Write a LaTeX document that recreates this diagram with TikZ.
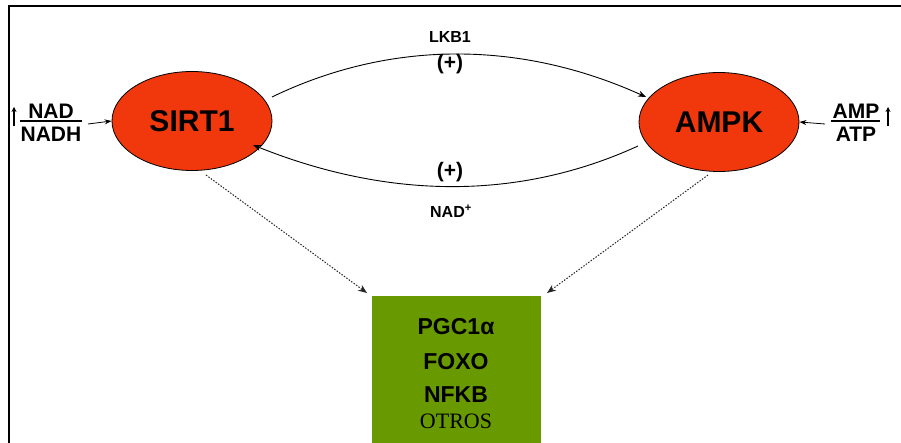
\documentclass[tikz,border=0pt]{standalone}
\usepackage{fontspec}
\setmainfont{Liberation Sans}
\newfontfamily\timesfont{Liberation Serif}
\usetikzlibrary{arrows.meta,shapes.geometric}
\definecolor{enzred}{RGB}{240,56,12}
\definecolor{targetgreen}{RGB}{104,154,0}
\begin{document}
\begin{tikzpicture}[x=1pt,y=-1pt,
  enzyme/.style={ellipse, draw=black, line width=0.8pt, fill=enzred,
    minimum width=160pt, minimum height=99pt, inner sep=0pt,
    font=\fontsize{30}{30}\selectfont\bfseries},
  loop/.style={line width=0.9pt, -{Stealth[length=8pt,width=6pt]}},
  feed/.style={line width=0.8pt, -{Stealth[length=7pt,width=5pt]}},
  dots/.style={line width=1pt, dash pattern=on 1.5pt off 1.5pt, draw=black!85,
    -{Stealth[length=9pt,width=7pt]}},
  lab/.style={font=\fontsize{16}{16}\selectfont\bfseries, inner sep=1pt},
  sign/.style={font=\fontsize{21}{21}\selectfont\bfseries, inner sep=1pt},
  frac/.style={font=\fontsize{21}{21}\selectfont\bfseries, inner sep=1pt},
  up/.style={line width=1.4pt, -{Stealth[length=5pt,width=5pt]}},
  target/.style={font=\fontsize{23}{23}\selectfont\bfseries, inner sep=0pt}]
\useasboundingbox (0,0) rectangle (901,443);
% frame
\draw[line width=2pt] (901,6) -- (9,6) -- (9,443);

% enzymes
\node[enzyme] (sirt) at (192,121) {SIRT1};
\node[enzyme] (ampk) at (719,122) {AMPK};

% mutual activation
\coordinate (s1) at (272,97);
\coordinate (a1) at (646,97);
\draw[loop] (s1) .. controls (390,40) and (520,40) .. (a1);
\coordinate (a2) at (638,146);
\coordinate (s2) at (253,145);
\draw[loop] (a2) .. controls (520,200) and (390,200) .. (s2);
\node[lab] (lkb) at (450,37) {LKB1};
\node[sign] (p1) at (450,64) {(+)};
\node[sign] (p2) at (450,172) {(+)};
\node[lab] (nad) at (451,211) {NAD\textsuperscript{+}};

% NAD/NADH ratio
\node[frac] (nadn) at (51,111) {NAD};
\node[frac] (nadd) at (51,134) {NADH};
\draw[line width=1.5pt] (20,121) -- (82,121);
\coordinate (upl0) at (14,126);
\coordinate (upl1) at (14,107);
\draw[up] (upl0) -- (upl1);
\coordinate (nadtip) at (88,124);
\draw[feed] (nadtip) -- (sirt.west);

% AMP/ATP ratio
\node[frac] (amp) at (856,111) {AMP};
\node[frac] (atp) at (856,134) {ATP};
\draw[line width=1.5pt] (831,121) -- (880,121);
\coordinate (upr0) at (888,126);
\coordinate (upr1) at (888,107);
\draw[up] (upr0) -- (upr1);
\coordinate (amptip) at (825,124);
\draw[feed] (amptip) -- (ampk.east);

% targets
\fill[targetgreen] (372,296) rectangle (541,443);
\node[target] (pgc) at (456,327) {PGC1α};
\node[target] (foxo) at (456,362) {FOXO};
\node[target] (nfkb) at (456,395) {NFKB};
\node[font=\fontsize{22}{22}\selectfont\timesfont, inner sep=0pt] (otros) at (456,421) {OTROS};
\coordinate (tl) at (367,293);
\coordinate (tr) at (547,293);
\coordinate (sb) at (206,175);
\coordinate (ab) at (708,175);
\draw[dots] (sb) -- (tl);
\draw[dots] (ab) -- (tr);
\end{tikzpicture}
\end{document}
